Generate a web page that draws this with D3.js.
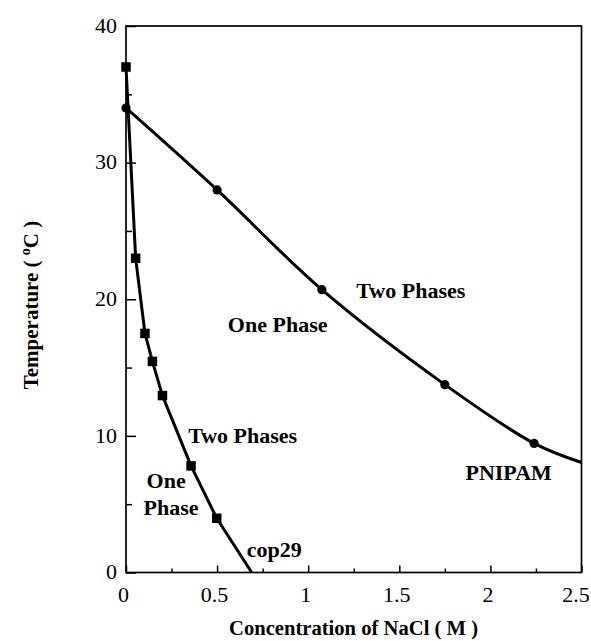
<!DOCTYPE html>
<html><head><meta charset="utf-8">
<script src="https://cdn.jsdelivr.net/npm/d3@7"></script>
<style>body{margin:0;background:#fff}svg{display:block}</style>
</head><body><svg id="c" width="591" height="641"></svg>
<script>
// Data
const pnipamConc = [0, 0.5, 1.075, 1.75, 2.24];
const pnipamTemp = [34, 28, 20.7, 13.75, 9.45];
const pnipamLineEnd = [2.5, 8.05];
const cop29Conc = [0, 0.053, 0.104, 0.145, 0.2, 0.357, 0.498];
const cop29Temp = [37, 23, 17.5, 15.45, 12.95, 7.8, 3.97];
const cop29LineEnd = [0.69, 0];
const xTicks = [0, 0.5, 1, 1.5, 2, 2.5];
const xTickLabels = ["0", "0.5", "1", "1.5", "2", "2.5"];
const xMinorTicks = [0.25, 0.75, 1.25, 1.75, 2.25];
const yTicks = [0, 10, 20, 30, 40];
const yMinorTicks = [5, 15, 25, 35];
const annotations = [
  {text: "Two Phases", x: 1.264, y: 20.1},
  {text: "One Phase", x: 0.559, y: 17.6},
  {text: "Two Phases", x: 0.341, y: 9.48},
  {text: "One", x: 0.113, y: 6.22},
  {text: "Phase", x: 0.096, y: 4.21},
  {text: "cop29", x: 0.663, y: 1.16},
  {text: "PNIPAM", x: 1.863, y: 6.77}
];

const W = 591, H = 641;
const m = {left: 126, top: 26, right: 9.5, bottom: 68.5};
const svg = d3.select("#c");
const x = d3.scaleLinear().domain([0, 2.5]).range([m.left, W - m.right]);
const y = d3.scaleLinear().domain([0, 40]).range([H - m.bottom, m.top]);
const serif = "'Liberation Serif','Times New Roman',serif";

// frame
svg.append("rect").attr("x", x(0)).attr("y", y(40))
  .attr("width", x(2.5) - x(0)).attr("height", y(0) - y(40))
  .attr("fill", "none").attr("stroke", "#000").attr("stroke-width", 1.7);

// axes
const xAx = svg.append("g").attr("transform", `translate(0,${y(0)})`)
  .call(d3.axisBottom(x).tickValues(xTicks).tickFormat((d, i) => xTickLabels[i]).tickSizeInner(-7).tickSizeOuter(0).tickPadding(14));
const xMin = svg.append("g").attr("transform", `translate(0,${y(0)})`)
  .call(d3.axisBottom(x).tickValues(xMinorTicks).tickFormat("").tickSizeInner(-4).tickSizeOuter(0));
const yAx = svg.append("g").attr("transform", `translate(${x(0)},0)`)
  .call(d3.axisLeft(y).tickValues(yTicks).tickSizeInner(-10).tickSizeOuter(0).tickPadding(9));
const yMin = svg.append("g").attr("transform", `translate(${x(0)},0)`)
  .call(d3.axisLeft(y).tickValues(yMinorTicks).tickFormat("").tickSizeInner(-6).tickSizeOuter(0));
[xAx, xMin, yAx, yMin].forEach(g => {
  g.select(".domain").remove();
  g.selectAll(".tick line").attr("stroke", "#000").attr("stroke-width", 1.5);
  g.selectAll("text").attr("font-family", serif).attr("font-size", 22).attr("fill", "#000");
});
xAx.selectAll(".tick text").attr("dx", (d, i) => i === xTicks.length - 1 ? -6 : -3);
yAx.selectAll(".tick text").attr("dy", "0.28em");

// lines
const pnipamLine = pnipamConc.map((c, i) => [c, pnipamTemp[i]]).concat([pnipamLineEnd]);
const cop29Line = cop29Conc.map((c, i) => [c, cop29Temp[i]]).concat([cop29LineEnd]);
svg.append("path").datum(pnipamLine)
  .attr("d", d3.line().x(d => x(d[0])).y(d => y(d[1])).curve(d3.curveCatmullRom.alpha(0.5)))
  .attr("fill", "none").attr("stroke", "#000").attr("stroke-width", 3);
svg.append("path").datum(cop29Line)
  .attr("d", d3.line().x(d => x(d[0])).y(d => y(d[1])))
  .attr("fill", "none").attr("stroke", "#000").attr("stroke-width", 3).attr("stroke-linejoin", "round");

// markers
svg.selectAll("circle.p").data(pnipamConc).join("circle")
  .attr("cx", d => x(d)).attr("cy", (d, i) => y(pnipamTemp[i])).attr("r", 4.6).attr("fill", "#000");
const s = 9.5;
svg.selectAll("rect.s").data(cop29Conc).join("rect")
  .attr("x", d => x(d) - s / 2).attr("y", (d, i) => y(cop29Temp[i]) - s / 2)
  .attr("width", s).attr("height", s).attr("fill", "#000");

// annotations
svg.selectAll("text.ann").data(annotations).join("text")
  .attr("x", d => x(d.x)).attr("y", d => y(d.y))
  .attr("font-family", serif).attr("font-weight", "bold").attr("font-size", 22)
  .attr("fill", "#000").text(d => d.text);

// axis titles
svg.append("text").attr("x", 229).attr("y", 635)
  .attr("font-family", serif).attr("font-weight", "bold").attr("font-size", 20)
  .attr("textLength", 249).attr("lengthAdjust", "spacingAndGlyphs")
  .text("Concentration of NaCl  ( M )");
const yt = svg.append("text").attr("transform", "translate(38,305) rotate(-90)")
  .attr("text-anchor", "middle").attr("font-family", serif).attr("font-weight", "bold").attr("font-size", 21);
yt.append("tspan").text("Temperature ( ");
yt.append("tspan").attr("font-size", 14).attr("dy", -8).text("o");
yt.append("tspan").attr("dy", 8).text("C )");
</script></body></html>
